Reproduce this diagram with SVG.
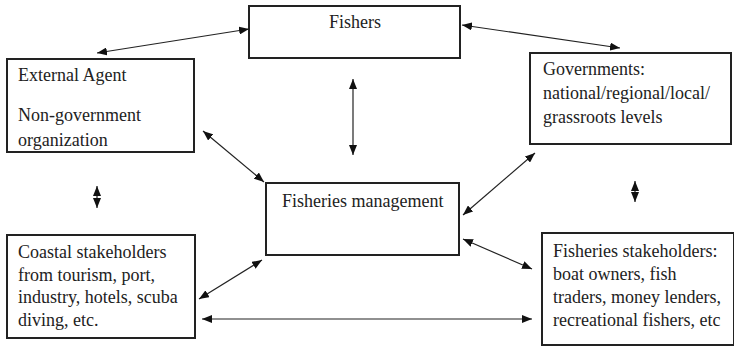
<svg xmlns="http://www.w3.org/2000/svg" width="734" height="346" viewBox="0 0 734 346">
<defs>
<style>
.box{fill:#fff;stroke:#222;stroke-width:2}
.t{font-size:18px;fill:#222}
.c{fill:none;stroke:#222;stroke-width:1.2;marker-start:url(#ah);marker-end:url(#ah)}
</style>
<marker id="ah" viewBox="0 0 10 8" refX="10" refY="4" markerWidth="10" markerHeight="8" markerUnits="userSpaceOnUse" orient="auto-start-reverse">
<path d="M0,0 L10,4 L0,8 Z" fill="#111"/>
</marker>
</defs>
<rect width="734" height="346" fill="#fff"/>
<g font-family="Liberation Serif, DejaVu Serif, serif">
<g id="fishers"><rect class="box" x="249" y="6" width="211" height="52"/><text class="t" x="355" y="28" text-anchor="middle">Fishers</text></g>
<g id="external"><rect class="box" x="7" y="59" width="187" height="93"/><text class="t" x="18" y="81">External Agent</text><text class="t" x="18" y="121">Non-government</text><text class="t" x="18" y="146">organization</text></g>
<g id="governments"><rect class="box" x="530" y="53" width="201" height="91"/><text class="t" x="543" y="75">Governments:</text><text class="t" x="543" y="99">national/regional/local/</text><text class="t" x="543" y="123">grassroots levels</text></g>
<g id="management"><rect class="box" x="266" y="183" width="193" height="72"/><text class="t" x="282" y="207">Fisheries management</text></g>
<g id="coastal"><rect class="box" x="7" y="235" width="188" height="103"/><text class="t" x="18" y="258">Coastal stakeholders</text><text class="t" x="18" y="281">from tourism, port,</text><text class="t" x="18" y="303">industry, hotels, scuba</text><text class="t" x="18" y="326">diving, etc.</text></g>
<g id="fstake"><rect class="box" x="542" y="233" width="192" height="112"/><text class="t" x="553" y="257">Fisheries stakeholders:</text><text class="t" x="553" y="280">boat owners, fish</text><text class="t" x="553" y="303">traders, money lenders,</text><text class="t" x="553" y="326">recreational fishers, etc</text></g>
</g>
<g id="connectors">
<line class="c" x1="249" y1="29" x2="97" y2="53"/>
<line class="c" x1="462" y1="25" x2="620" y2="48"/>
<line class="c" x1="353" y1="79" x2="353" y2="155"/>
<line class="c" x1="203" y1="131" x2="264" y2="182"/>
<line class="c" x1="535" y1="153" x2="463" y2="215"/>
<line class="c" x1="463" y1="239" x2="532" y2="269"/>
<line class="c" x1="262" y1="260" x2="199" y2="299"/>
<line class="c" x1="202" y1="319" x2="532" y2="319"/>
<line class="c" x1="97" y1="186" x2="97" y2="208"/>
<line class="c" x1="635" y1="181" x2="635" y2="202"/>
</g>
</svg>
